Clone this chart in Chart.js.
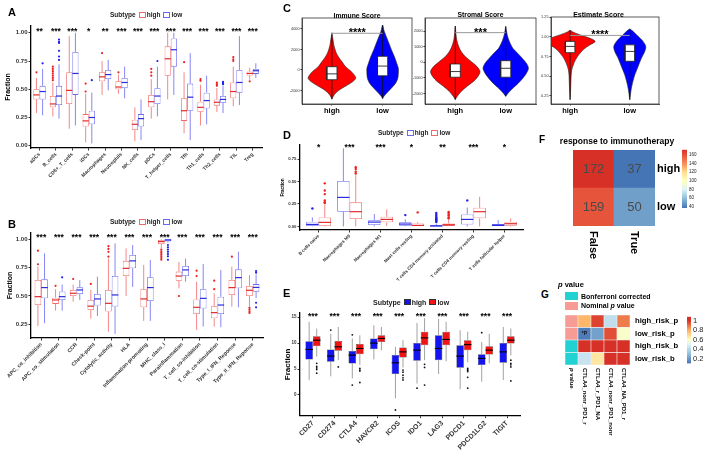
<!DOCTYPE html>
<html>
<head>
<meta charset="utf-8">
<script src="https://cdn.jsdelivr.net/npm/chart.js@4.4.1/dist/chart.umd.min.js"></script>
<style>
  body { margin: 0; width: 709px; height: 450px; background: #fff; position: relative; overflow: hidden; font-family: "Liberation Sans", Arial, sans-serif; }
  canvas { position: absolute; }
  .txt { position: absolute; white-space: nowrap; font-weight: bold; color: #000; line-height: 1; }
  .lg { position: absolute; display: flex; align-items: center; white-space: nowrap; font-weight: bold; line-height: 1; color: #222; height: 8px; }
  .ic { display: inline-block; box-sizing: border-box; margin: 0 1px 0 3px; }
</style>
</head>
<body>
<script>
// ---------- A: immune cell fractions ----------
const aLabels = ['aDCs', 'B_cells', 'CD8+_T_cells', 'iDCs', 'Macrophages', 'Neutrophils', 'NK_cells', 'pDCs', 'T_helper_cells', 'Tfh', 'Th1_cells', 'Th2_cells', 'TIL', 'Treg'];
const aStars = ['**', '***', '***', '*', '**', '***', '***', '***', '***', '***', '***', '***', '***', '***'];
// [min, q1, median, q3, max]
const aHigh = [
  [0.29, 0.41, 0.45, 0.50, 0.60], [0.26, 0.34, 0.37, 0.44, 0.56], [0.15, 0.37, 0.49, 0.65, 0.97],
  [0.03, 0.17, 0.22, 0.28, 0.46], [0.45, 0.57, 0.61, 0.65, 0.75], [0.46, 0.50, 0.52, 0.57, 0.63],
  [0.04, 0.14, 0.19, 0.23, 0.34], [0.24, 0.34, 0.39, 0.45, 0.59], [0.41, 0.62, 0.77, 0.88, 1.00],
  [0.11, 0.22, 0.31, 0.42, 0.65], [0.18, 0.30, 0.34, 0.39, 0.54], [0.30, 0.355, 0.385, 0.41, 0.51],
  [0.35, 0.42, 0.48, 0.56, 0.70], [0.585, 0.622, 0.64, 0.658, 0.69]
];
const aHighOut = [[0.65], [0.58, 0.60, 0.62, 0.64, 0.66, 0.68, 0.70], [], [0.48, 0.55], [0.82], [0.65], [], [0.62, 0.65, 0.68], [], [0.74], [0.575, 0.59], [0.53, 0.545, 0.56], [0.75, 0.765, 0.785], [0.57]];
const aLow = [
  [0.27, 0.41, 0.48, 0.53, 0.68], [0.24, 0.36, 0.44, 0.53, 0.72], [0.18, 0.45, 0.64, 0.83, 1.00],
  [0.02, 0.19, 0.25, 0.31, 0.47], [0.49, 0.59, 0.63, 0.67, 0.76], [0.42, 0.51, 0.56, 0.60, 0.70],
  [0.05, 0.17, 0.24, 0.28, 0.41], [0.26, 0.37, 0.44, 0.51, 0.70], [0.45, 0.70, 0.85, 0.95, 1.00],
  [0.05, 0.31, 0.43, 0.55, 0.82], [0.19, 0.33, 0.40, 0.47, 0.62], [0.29, 0.38, 0.41, 0.44, 0.53],
  [0.36, 0.47, 0.56, 0.67, 0.97], [0.60, 0.636, 0.664, 0.68, 0.73]
];
const aLowOut = [[0.73], [0.76, 0.79, 0.84, 0.91, 0.92, 0.94], [], [0.58], [], [], [], [0.75], [], [], [], [0.545, 0.555, 0.565], [], []];

// ---------- B: immune functions ----------
const bLabels = ['APC_co_inhibition', 'APC_co_stimulation', 'CCR', 'Check-point', 'Cytolytic_activity', 'HLA', 'Inflammation-promoting', 'MHC_class_I', 'Parainflammation', 'T_cell_co-inhibition', 'T_cell_co-stimulation', 'Type_I_IFN_Reponse', 'Type_II_IFN_Reponse'];
const bStars = bLabels.map(() => '***');
const bHigh = [
  [0.235, 0.42, 0.494, 0.641, 0.76], [0.37, 0.43, 0.465, 0.485, 0.56], [0.45, 0.50, 0.524, 0.553, 0.60],
  [0.30, 0.376, 0.41, 0.465, 0.553], [0.185, 0.362, 0.435, 0.553, 0.83], [0.50, 0.676, 0.744, 0.81, 0.92],
  [0.28, 0.40, 0.474, 0.559, 0.774], [0.92, 0.959, 0.98, 0.994, 1.0], [0.568, 0.635, 0.676, 0.715, 0.80],
  [0.20, 0.34, 0.40, 0.47, 0.626], [0.23, 0.303, 0.353, 0.41, 0.524], [0.406, 0.509, 0.574, 0.641, 0.76],
  [0.405, 0.50, 0.55, 0.588, 0.685]
];
const bHighOut = [[0.78, 0.90], [0.59], [0.65], [0.606], [0.847, 0.89, 0.915, 0.94], [], [], [0.82, 0.835, 0.85, 0.865, 0.88, 0.895, 0.91], [0.50], [0.676, 0.723], [0.56, 0.635], [0.847], [0.35, 0.365, 0.38, 0.395]];
const bLow = [
  [0.26, 0.48, 0.574, 0.647, 0.876], [0.37, 0.465, 0.494, 0.54, 0.60], [0.465, 0.518, 0.553, 0.576, 0.64],
  [0.323, 0.415, 0.474, 0.518, 0.67], [0.165, 0.406, 0.509, 0.676, 0.965], [0.58, 0.744, 0.81, 0.862, 0.95],
  [0.28, 0.456, 0.574, 0.665, 0.818], [0.97, 0.98, 0.994, 1.0, 1.0], [0.626, 0.676, 0.73, 0.765, 0.83],
  [0.23, 0.39, 0.479, 0.559, 0.782], [0.224, 0.34, 0.42, 0.494, 0.73], [0.40, 0.568, 0.662, 0.735, 0.89],
  [0.48, 0.538, 0.576, 0.605, 0.69]
];
const bLowOut = [[], [0.665], [], [], [], [], [], [0.82, 0.85, 0.87, 0.89, 0.91, 0.93, 0.95], [], [], [], [], [0.40, 0.44, 0.705, 0.72]];

// ---------- C: violin scores ----------
const cGroups = ['high', 'low'];
const immHighLev = [-2850, -2540, -2220, -1900, -1520, -1110, -790, -480, -60, 320, 790, 1270, 1740, 2380, 3010, 3490];
const immHighHw = [0, 0.03, 0.08, 0.16, 0.29, 0.42, 0.47, 0.44, 0.36, 0.27, 0.2, 0.13, 0.08, 0.04, 0.02, 0];
const immHighBox = [-2850, -950, -380, 320, 3650];
const immLowLev = [-2790, -2540, -2160, -1740, -1270, -790, -320, 160, 630, 1270, 1900, 2540, 3170, 3800, 4380];
const immLowHw = [0, 0.03, 0.1, 0.18, 0.26, 0.3, 0.31, 0.31, 0.28, 0.235, 0.18, 0.13, 0.08, 0.03, 0];
const immLowBox = [-2790, -570, 380, 1330, 4380];
const strHighLev = [-2380, -2170, -1850, -1540, -1220, -900, -590, -270, 40, 360, 670, 990, 1410, 1830, 2320];
const strHighHw = [0, 0.04, 0.12, 0.23, 0.36, 0.45, 0.49, 0.43, 0.32, 0.2, 0.12, 0.07, 0.03, 0.013, 0];
const strHighBox = [-2380, -950, -590, -105, 2320];
const strLowLev = [-2170, -1960, -1640, -1330, -1010, -700, -380, -60, 250, 570, 880, 1200, 1620, 2040, 2290];
const strLowHw = [0, 0.05, 0.145, 0.25, 0.34, 0.41, 0.45, 0.41, 0.33, 0.24, 0.145, 0.09, 0.04, 0.013, 0];
const strLowBox = [-2170, -950, -380, 105, 2290];
const estHighLev = [0.20, 0.37, 0.50, 0.58, 0.67, 0.75, 0.84, 0.90, 0.944, 0.987, 1.03, 1.064, 1.085];
const estHighHw = [0, 0.011, 0.017, 0.028, 0.067, 0.123, 0.223, 0.335, 0.419, 0.324, 0.156, 0.045, 0];
const estHighBox = [0.20, 0.80, 0.88, 0.944, 1.085];
const estLowLev = [0.20, 0.325, 0.41, 0.517, 0.624, 0.731, 0.816, 0.88, 0.944, 1.009, 1.051, 1.085, 1.103];
const estLowHw = [0, 0.022, 0.045, 0.084, 0.14, 0.196, 0.251, 0.268, 0.223, 0.14, 0.084, 0.034, 0];
const estLowBox = [0.20, 0.69, 0.816, 0.90, 1.10];

// ---------- D: CIBERSORT cells ----------
const dLabels = ['B cells naive', 'Macrophages M0', 'Macrophages M1', 'Mast cells resting', 'T cells CD4 memory activated', 'T cells CD4 memory resting', 'T cells follicular helper'];
const dStars = ['*', '***', '***', '*', '**', '***', '*'];
const dHigh = [
  [0, 0.004, 0.022, 0.052, 0.10], [0, 0.164, 0.323, 0.506, 0.87], [0, 0.015, 0.048, 0.07, 0.138],
  [0, 0.007, 0.026, 0.045, 0.078], [0, 0, 0.004, 0.015, 0.033], [0, 0.022, 0.078, 0.134, 0.21],
  [0, 0, 0.011, 0.026, 0.07]
];
const dHighOut = [[0.20], [], [], [0.126], [0.05, 0.06, 0.07, 0.08, 0.09, 0.10, 0.115, 0.13, 0.15], [0.29], []];
const dLow = [
  [0, 0.007, 0.045, 0.10, 0.24], [0, 0.082, 0.164, 0.268, 0.57], [0.005, 0.045, 0.078, 0.108, 0.19],
  [0, 0, 0.011, 0.033, 0.048], [0, 0, 0.019, 0.033, 0.078], [0, 0.09, 0.164, 0.208, 0.33],
  [0, 0.007, 0.03, 0.052, 0.09]
];
const dLowOut = [[0.26, 0.27, 0.29, 0.36, 0.40, 0.48], [0.59, 0.61, 0.64, 0.66], [], [0.156], [0.09, 0.10, 0.12, 0.13, 0.15, 0.16], [], []];

// ---------- E: checkpoint genes ----------
const eLabels = ['CD27', 'CD274', 'CTLA4', 'HAVCR2', 'ICOS', 'IDO1', 'LAG3', 'PDCD1', 'PDCD1LG2', 'TIGIT'];
const eStars = eLabels.map(() => '***');
const eHigh = [
  [2.9, 6.85, 8.77, 10.36, 14.1], [3.6, 6.4, 7.49, 8.77, 11.8], [3.2, 6.08, 7.68, 8.45, 10.9],
  [6.85, 8.83, 10.0, 10.9, 13.4], [-0.64, 4.03, 6.2, 7.68, 9.28], [2.2, 6.6, 8.64, 10.0, 13.9],
  [4.03, 6.7, 8.96, 11.5, 14.7], [1.1, 5.25, 7.49, 9.6, 12.5], [2.56, 5.76, 7.04, 7.87, 10.2],
  [2.88, 6.2, 8.3, 10.0, 13.1]
];
const eHighOut = [[], [12.5], [11.6, 1.9], [], [-2.9], [1.3], [], [], [12.0], []];
const eLow = [
  [7.4, 9.4, 10.56, 11.3, 12.8], [6.7, 8.5, 9.28, 10.4, 13.1], [5.8, 7.87, 8.96, 9.8, 11.5],
  [8.6, 10.2, 10.9, 11.5, 13.1], [5.3, 7.23, 8.3, 9.15, 10.56], [6.7, 9.6, 11.0, 12.2, 14.8],
  [6.5, 9.6, 10.7, 12.2, 14.1], [6.3, 8.64, 9.7, 10.56, 12.2], [6.1, 7.8, 8.64, 9.4, 11.8],
  [7.6, 9.9, 10.56, 11.3, 12.8]
];
const eLowOut = [[4.2, 4.9, 5.2, 5.5, 6.1], [5.4], [2.4, 4.6, 4.8, 5.1], [], [2.9, 3.3, 3.8, 4.4, 4.8], [1.9, 5.3, 5.9], [], [1.3, 3.4, 4.5, 4.7, 4.9, 5.1], [], [2.7, 5.4, 5.8, 6.1, 6.7]];

// ---------- F: response heatmap ----------
const fCols = ['False', 'True'];
const fRows = ['high', 'low'];
const fHigh = [172, 37];
const fLow = [159, 50];
const fTicks = [40, 60, 80, 100, 120, 140, 160];

// ---------- G: subclass mapping ----------
const gCols = ['p value', 'CTLA4_nonr_PD1_r', 'CTLA4_r_PD1_NA', 'CTLA4_nonr_PD1_nonr', 'CTLA4_NA_PD1_r'];
const gRows = ['high_risk_p', 'low_risk_p', 'high_risk_b', 'low_risk_b'];
const gHighP = [0.78, 0.97, 0.42, 0.88];
const gLowP = [0.12, 0.22, 0.95, 0.58];
const gHighB = [1, 1, 1, 1];
const gLowB = [0.44, 0.66, 1, 1];
const gAnnot = ['Nominal p value', 'Nominal p value', 'Bonferroni corrected', 'Bonferroni corrected'];
const gMarks = [['', '', '', ''], ['*P', '', '', ''], ['', '', '', ''], ['', '', '', '']];
const gTicks = [0.2, 0.4, 0.6, 0.8, 1];

const FONT = '"Liberation Sans", Arial, sans-serif';
Chart.defaults.font.family = FONT;
Chart.defaults.color = '#222';

function makeCanvas(left, top, w, h) {
  const c = document.createElement('canvas');
  c.width = w; c.height = h;
  c.style.left = left + 'px'; c.style.top = top + 'px';
  c.style.width = w + 'px'; c.style.height = h + 'px';
  document.body.appendChild(c);
  return c;
}

function addText(html, left, top, css) {
  const d = document.createElement('div');
  d.className = 'txt';
  d.innerHTML = html;
  d.style.left = left + 'px';
  d.style.top = top + 'px';
  if (css) d.style.cssText += css;
  document.body.appendChild(d);
}

function addLegend(left, top, size, items) {
  const d = document.createElement('div');
  d.className = 'lg';
  d.style.left = left + 'px';
  d.style.top = top + 'px';
  d.style.fontSize = size + 'px';
  let html = '<span>Subtype</span>';
  items.forEach(it => {
    const bg = it.filled
      ? `linear-gradient(to bottom, ${it.color} 42%, #000 42%, #000 58%, ${it.color} 58%)`
      : `linear-gradient(to bottom, #fff 40%, ${it.color} 40%, ${it.color} 60%, #fff 60%)`;
    const bd = it.filled ? '#333' : it.color;
    html += `<span class="ic" style="width:7px;height:6px;border:0.8px solid ${bd};background:${bg}"></span><span>${it.name}</span>`;
  });
  d.innerHTML = html;
  document.body.appendChild(d);
}

function hex(c) { return [1, 3, 5].map(i => parseInt(c.slice(i, i + 2), 16)); }
function colorAt(stops, v) {
  if (v <= stops[0][0]) return stops[0][1];
  for (let i = 1; i < stops.length; i++) {
    if (v <= stops[i][0]) {
      const t = (v - stops[i - 1][0]) / (stops[i][0] - stops[i - 1][0]);
      const a = hex(stops[i - 1][1]), b = hex(stops[i][1]);
      return `rgb(${a.map((x, k) => Math.round(x + (b[k] - x) * t)).join(',')})`;
    }
  }
  return stops[stops.length - 1][1];
}

// whiskers, medians and outliers on top of the floating-bar boxes
const boxExtras = {
  id: 'boxExtras',
  afterDatasetsDraw(chart) {
    const ctx = chart.ctx;
    const yScale = chart.scales.y;
    const py = v => yScale.getPixelForValue(v);
    chart.data.datasets.forEach((ds, di) => {
      const look = ds.look;
      chart.getDatasetMeta(di).data.forEach((bar, i) => {
        const b = ds.box[i];
        const half = bar.width / 2;
        ctx.save();
        ctx.strokeStyle = look.whisk;
        ctx.lineWidth = look.whiskW;
        ctx.beginPath();
        ctx.moveTo(bar.x, py(b[0])); ctx.lineTo(bar.x, py(b[1]));
        ctx.moveTo(bar.x, py(b[3])); ctx.lineTo(bar.x, py(b[4]));
        ctx.stroke();
        ctx.strokeStyle = look.med;
        ctx.lineWidth = look.medW;
        ctx.beginPath();
        ctx.moveTo(bar.x - half, py(b[2])); ctx.lineTo(bar.x + half, py(b[2]));
        ctx.stroke();
        ctx.fillStyle = look.dot;
        ds.out[i].forEach(v => {
          ctx.beginPath();
          ctx.arc(bar.x, py(v), look.dotR, 0, Math.PI * 2);
          ctx.fill();
        });
        ctx.restore();
      });
    });
  }
};

function starsPlugin(stars, size, dy) {
  return {
    id: 'stars',
    afterDatasetsDraw(chart) {
      const {ctx, chartArea, scales: {x}} = chart;
      ctx.save();
      ctx.font = `bold ${size}px ${FONT}`;
      ctx.fillStyle = '#000';
      ctx.textAlign = 'center';
      ctx.textBaseline = 'alphabetic';
      stars.forEach((s, i) => ctx.fillText(s, x.getPixelForValue(i), chartArea.top + dy));
      ctx.restore();
    }
  };
}

function boxChart(canvas, p) {
  const datasets = p.groups.map(g => ({
    data: g.box.map((b, i) => ({x: i, y: [b[1], b[3]]})),
    box: g.box, out: g.out, look: g,
    backgroundColor: g.fill, borderColor: g.line, borderWidth: g.lw, borderSkipped: false,
    categoryPercentage: p.boxWidth, barPercentage: 1
  }));
  return new Chart(canvas, {
    type: 'bar',
    data: {datasets},
    options: {
      responsive: false, animation: false, devicePixelRatio: 1,
      layout: {padding: {top: p.pad[0], right: p.pad[1], bottom: 0, left: 0}},
      plugins: {legend: {display: false}, tooltip: {enabled: false}},
      scales: {
        x: {
          type: 'linear', min: p.xRange[0], max: p.xRange[1], offset: false,
          grid: {drawOnChartArea: false, offset: false, tickLength: 2.5, color: '#333'},
          border: {color: '#000', width: 1.3},
          afterBuildTicks: s => { s.ticks = p.labels.map((l, i) => ({value: i})); },
          afterFit: s => { s.height = p.xh; },
          ticks: {autoSkip: false, minRotation: 45, maxRotation: 45, padding: 1, color: '#333',
            font: {size: p.xFont, weight: 'bold'}, callback: v => p.labels[v]}
        },
        y: {
          min: p.yRange[0], max: p.yRange[1],
          grid: {drawOnChartArea: false, tickLength: 2.5, color: '#333'},
          border: {color: '#000', width: 1.3},
          afterBuildTicks: s => { s.ticks = p.yTicks.map(v => ({value: v})); },
          afterFit: s => { s.width = p.yw; },
          ticks: {padding: 1, color: '#333', font: {size: p.yFont, weight: 'bold'}, callback: p.yFmt},
          title: {display: true, text: 'Fraction', color: '#000',
            font: {size: p.titleFont, weight: 'bold'}, padding: {top: p.titlePad, bottom: 0}}
        }
      }
    },
    plugins: [boxExtras, starsPlugin(p.stars, p.starSize, p.starDy)]
  });
}

function violinChart(canvas, p) {
  const ds = [];
  p.groups.forEach((g, gi) => {
    const c = gi + 1;
    const right = g.lev.map((v, i) => ({x: c + g.hw[i], y: v}));
    const left = g.lev.map((v, i) => ({x: c - g.hw[i], y: v})).reverse().slice(1);
    const b = g.box, w = p.boxHalf;
    ds.push({data: right.concat(left), fill: 'shape', backgroundColor: g.color, borderColor: '#222', borderWidth: 0.6, tension: 0.3, order: 5});
    ds.push({data: [{x: c, y: b[0]}, {x: c, y: b[4]}], borderColor: '#111', borderWidth: 0.8, order: 4});
    ds.push({data: [{x: c - w, y: b[1]}, {x: c + w, y: b[1]}, {x: c + w, y: b[3]}, {x: c - w, y: b[3]}, {x: c - w, y: b[1]}],
      fill: 'shape', backgroundColor: '#fff', borderColor: '#222', borderWidth: 0.8, order: 3});
    ds.push({data: [{x: c - w, y: b[2]}, {x: c + w, y: b[2]}], borderColor: '#222', borderWidth: 0.9, order: 2});
  });
  ds.push({data: [{x: 1, y: p.sigY}, {x: 2, y: p.sigY}], borderColor: '#999', borderWidth: 1, order: 1});
  ds.forEach(d => { d.showLine = true; d.pointRadius = 0; if (d.tension === undefined) d.tension = 0; });
  const frame = {
    id: 'frame',
    afterDraw(chart) {
      const {ctx, chartArea: a, scales: {x, y}} = chart;
      ctx.save();
      ctx.strokeStyle = '#333'; ctx.lineWidth = 0.8;
      ctx.strokeRect(a.left, a.top, a.right - a.left, a.bottom - a.top);
      ctx.font = `bold 11px ${FONT}`;
      ctx.fillStyle = '#000'; ctx.textAlign = 'center'; ctx.textBaseline = 'alphabetic';
      ctx.fillText(p.sig, x.getPixelForValue(1.5), y.getPixelForValue(p.sigY) + 3);
      ctx.restore();
    }
  };
  return new Chart(canvas, {
    type: 'scatter',
    data: {datasets: ds},
    options: {
      responsive: false, animation: false, devicePixelRatio: 1,
      layout: {padding: {top: p.pad[0], right: p.pad[1], bottom: 0, left: 0}},
      plugins: {legend: {display: false}, tooltip: {enabled: false}},
      scales: {
        x: {
          min: p.xRange[0], max: p.xRange[1],
          grid: {drawOnChartArea: false, tickLength: 1.5, color: '#333'},
          border: {color: '#333', width: 0.8},
          afterBuildTicks: s => { s.ticks = p.names.map((n, i) => ({value: i + 1})); },
          afterFit: s => { s.height = p.xh; },
          ticks: {padding: 0.5, color: '#000', font: {size: 7.5, weight: 'bold'}, callback: v => p.names[v - 1]}
        },
        y: {
          min: p.yRange[0], max: p.yRange[1],
          grid: {drawOnChartArea: false, tickLength: 1.5, color: '#333'},
          border: {color: '#333', width: 0.8},
          afterBuildTicks: s => { s.ticks = p.yTicks.map(v => ({value: v})); },
          afterFit: s => { s.width = p.yw; },
          ticks: {padding: 1, color: '#333', font: {size: 3.8}, callback: p.yFmt}
        }
      }
    },
    plugins: [frame]
  });
}

function colorBar(canvas, p) {
  return new Chart(canvas, {
    type: 'bar',
    data: {labels: [''], datasets: [{
      data: [[p.min, p.max]], barPercentage: 1, categoryPercentage: 1,
      backgroundColor: c => {
        const chart = c.chart;
        if (!chart.chartArea) return p.stops[0][1];
        const y = chart.scales.y;
        const g = chart.ctx.createLinearGradient(0, y.getPixelForValue(p.min), 0, y.getPixelForValue(p.max));
        p.stops.forEach(([v, col]) => g.addColorStop(Math.min(1, Math.max(0, (v - p.min) / (p.max - p.min))), col));
        return g;
      }
    }]},
    options: {
      responsive: false, animation: false, devicePixelRatio: 1,
      layout: {padding: {left: p.pad[0], top: p.pad[1], bottom: p.pad[2], right: 0}},
      plugins: {legend: {display: false}, tooltip: {enabled: false}},
      scales: {
        x: {display: false},
        y: {
          position: 'right', min: p.min, max: p.max,
          grid: {display: false, drawTicks: false}, border: {display: false},
          afterBuildTicks: s => { s.ticks = p.ticks.map(v => ({value: v})); },
          afterFit: s => { s.width = p.yw; },
          ticks: {autoSkip: false, padding: 2, color: '#222', font: {size: p.font}, callback: v => String(v)}
        }
      }
    }
  });
}

function heatmap(canvas, p) {
  // rows listed top to bottom; stacked bars are built bottom to top
  const order = p.rows.map((r, i) => i).reverse();
  const datasets = order.map(ri => ({
    data: p.cols.map(() => 1),
    values: p.values[ri], marks: p.marks ? p.marks[ri] : null,
    backgroundColor: p.colors[ri],
    borderColor: p.cellBorder, borderWidth: p.cellBorderW, borderSkipped: false,
    barPercentage: 1, categoryPercentage: 1
  }));
  const cellText = {
    id: 'cellText',
    afterDatasetsDraw(chart) {
      const {ctx, chartArea, scales: {x}} = chart;
      ctx.save();
      ctx.textAlign = 'center'; ctx.textBaseline = 'middle';
      chart.data.datasets.forEach((ds, di) => {
        chart.getDatasetMeta(di).data.forEach((bar, i) => {
          const t = p.showValues ? String(ds.values[i]) : (ds.marks ? ds.marks[i + p.markOffset] || '' : '');
          if (!t) return;
          ctx.font = p.cellFont;
          ctx.fillStyle = p.cellColor;
          ctx.fillText(t, bar.x, (bar.y + bar.base) / 2);
        });
      });
      // column labels rotated clockwise, reading downward
      ctx.fillStyle = '#000';
      ctx.textAlign = 'left';
      p.cols.forEach((c, i) => {
        ctx.save();
        ctx.translate(x.getPixelForTick(i), chartArea.bottom + p.colGap);
        ctx.rotate(Math.PI / 2);
        if (c.startsWith('p ')) {
          ctx.font = `italic bold ${p.colSize}px ${FONT}`;
          ctx.fillText('p', 0, 0);
          const w = ctx.measureText('p').width;
          ctx.font = `bold ${p.colSize}px ${FONT}`;
          ctx.fillText(c.slice(1), w, 0);
        } else {
          ctx.font = `bold ${p.colSize}px ${FONT}`;
          ctx.fillText(c, 0, 0);
        }
        ctx.restore();
      });
      ctx.restore();
    }
  };
  return new Chart(canvas, {
    type: 'bar',
    data: {labels: p.cols, datasets},
    options: {
      responsive: false, animation: false, devicePixelRatio: 1,
      layout: {padding: {left: p.pad[0], top: p.pad[1], bottom: 0, right: 0}},
      plugins: {legend: {display: false}, tooltip: {enabled: false}},
      scales: {
        x: {stacked: true, grid: {display: false}, border: {display: false}, ticks: {display: false},
          afterFit: s => { s.height = p.xh; }},
        y: {
          stacked: true, position: 'right', min: 0, max: p.rows.length,
          grid: {display: false, drawTicks: false}, border: {display: false},
          afterBuildTicks: s => { s.ticks = p.rows.map((r, i) => ({value: i + 0.5})); },
          afterFit: s => { s.width = p.yw; },
          ticks: {autoSkip: false, padding: p.rowPad, color: '#000', font: {size: p.rowSize, weight: 'bold'},
            callback: v => p.rows[p.rows.length - 1 - Math.floor(v)]}
        }
      }
    },
    plugins: [cellText]
  });
}

const redOutline = {fill: '#fff', line: '#f06868', lw: 0.8, whisk: '#f06868', whiskW: 0.8, med: '#e22a2a', medW: 1.2, dot: '#ee2020', dotR: 1.1};
const blueOutline = {fill: '#fff', line: '#6868f0', lw: 0.8, whisk: '#6868f0', whiskW: 0.8, med: '#2a2ae2', medW: 1.2, dot: '#2020ee', dotR: 1.1};
const fmt2 = v => v.toFixed(2);

// A
boxChart(makeCanvas(0, 0, 266, 195), {
  labels: aLabels, stars: aStars, starSize: 8.5, starDy: 7.5,
  groups: [{...redOutline, box: aHigh, out: aHighOut}, {...blueOutline, box: aLow, out: aLowOut}],
  xRange: [-0.52, 13.6], yRange: [-0.02, 1.06], yTicks: [0, 0.25, 0.5, 0.75, 1], yFmt: fmt2,
  pad: [26, 3.4], yw: 31, xh: 47, xFont: 5, yFont: 6, titleFont: 7, titlePad: 4, boxWidth: 0.75
});

// B
boxChart(makeCanvas(0, 190, 266, 215), {
  labels: bLabels, stars: bStars, starSize: 8.5, starDy: 7.2,
  groups: [{...redOutline, box: bHigh, out: bHighOut}, {...blueOutline, box: bLow, out: bLowOut}],
  xRange: [-0.58, 12.58], yRange: [0.129, 1.056], yTicks: [0.25, 0.5, 0.75, 1], yFmt: fmt2,
  pad: [43, 3], yw: 31, xh: 67, xFont: 5.3, yFont: 6, titleFont: 7, titlePad: 5.5, boxWidth: 0.75
});

// C
violinChart(makeCanvas(272, 0, 143, 118), {
  names: cGroups, sig: '****', sigY: 3580, boxHalf: 0.1,
  groups: [{lev: immHighLev, hw: immHighHw, box: immHighBox, color: '#ff0000'}, {lev: immLowLev, hw: immLowHw, box: immLowBox, color: '#0000ff'}],
  xRange: [0.41, 2.58], yRange: [-3320, 5070], yTicks: [-2000, 0, 2000, 4000], yFmt: v => String(v),
  pad: [18, 3], yw: 30, xh: 14
});
violinChart(makeCanvas(400, 0, 139, 118), {
  names: cGroups, sig: '***', sigY: 1895, boxHalf: 0.1,
  groups: [{lev: strHighLev, hw: strHighHw, box: strHighBox, color: '#ff0000'}, {lev: strLowLev, hw: strLowHw, box: strLowBox, color: '#0000ff'}],
  xRange: [0.4, 2.6], yRange: [-2660, 2830], yTicks: [-2000, -1000, 0, 1000, 2000], yFmt: v => String(v),
  pad: [18, 3], yw: 25, xh: 14
});
violinChart(makeCanvas(532, 0, 130, 118), {
  names: cGroups, sig: '****', sigY: 1.02, boxHalf: 0.08,
  groups: [{lev: estHighLev, hw: estHighHw, box: estHighBox, color: '#ff0000'}, {lev: estLowLev, hw: estLowHw, box: estLowBox, color: '#0000ff'}],
  xRange: [0.68, 2.49], yRange: [0.145, 1.255], yTicks: [0.25, 0.5, 0.75, 1, 1.25], yFmt: fmt2,
  pad: [17, 3], yw: 19, xh: 14
});

// D (high = blue, low = red)
boxChart(makeCanvas(277, 128, 250, 160), {
  labels: dLabels, stars: dStars, starSize: 8.5, starDy: 5,
  groups: [{...blueOutline, box: dHigh, out: dHighOut, dotR: 1.2}, {...redOutline, box: dLow, out: dLowOut, dotR: 1.2}],
  xRange: [-0.6, 6.6], yRange: [-0.04, 0.907], yTicks: [0, 0.25, 0.5, 0.75], yFmt: fmt2,
  pad: [17, 4], yw: 23, xh: 58, xFont: 4.5, yFont: 4.3, titleFont: 4.6, titlePad: 3.2, boxWidth: 0.8
});

// E
const eBlue = {fill: '#1414f0', line: '#333', lw: 0.5, whisk: '#8a8a8a', whiskW: 0.8, med: '#000', medW: 1.1, dot: '#111', dotR: 0.9};
const eRed = {fill: '#f01414', line: '#333', lw: 0.5, whisk: '#8a8a8a', whiskW: 0.8, med: '#000', medW: 1.1, dot: '#111', dotR: 0.9};
boxChart(makeCanvas(280, 290, 244, 160), {
  labels: eLabels, stars: eStars, starSize: 8.5, starDy: 5.8,
  groups: [{...eBlue, box: eHigh, out: eHighOut}, {...eRed, box: eLow, out: eLowOut}],
  xRange: [-0.6, 9.6], yRange: [-4, 15.8], yTicks: [0, 5, 10, 15], yFmt: v => String(v),
  pad: [23, 4], yw: 20, xh: 34.3, xFont: 7, yFont: 4.5, titleFont: 8, titlePad: 2.7, boxWidth: 0.7
});

// F
const fStops = [[37, '#4575b4'], [60, '#91bfdb'], [80, '#e0f3f8'], [100, '#ffffbf'], [120, '#fee090'], [135, '#fc9e62'], [150, '#f26d4b'], [172, '#d73027']];
heatmap(makeCanvas(565, 135, 135, 140), {
  cols: fCols, rows: fRows, values: [fHigh, fLow],
  colors: [fHigh.map(v => colorAt(fStops, v)), fLow.map(v => colorAt(fStops, v))],
  showValues: true, cellFont: `13px ${FONT}`, cellColor: '#4a4a4a', cellBorder: '#fff', cellBorderW: 0,
  pad: [8, 15], xh: 49, yw: 45, rowPad: 2, rowSize: 11, colSize: 11, colGap: 5
});
colorBar(makeCanvas(676, 145, 30, 70), {
  min: 37, max: 172, stops: fStops, ticks: fTicks, pad: [6, 3, 7], yw: 19, font: 4.5
});

// G
const gStops = [[0.1, '#4575b4'], [0.3, '#91bfdb'], [0.5, '#e0f3f8'], [0.6, '#ffffbf'], [0.8, '#fdae61'], [1.0, '#d73027'], [1.08, '#d73027']];
const gAnnotColors = {'Bonferroni corrected': '#22d1d1', 'Nominal p value': '#f69c95'};
const gValues = [gHighP, gLowP, gHighB, gLowB];
heatmap(makeCanvas(555, 305, 140, 145), {
  cols: gCols, rows: gRows, values: gValues,
  colors: gValues.map((row, ri) => [gAnnotColors[gAnnot[ri]]].concat(row.map(v => colorAt(gStops, v)))),
  showValues: false, marks: gMarks, markOffset: -1,
  cellFont: `bold 5px ${FONT}`, cellColor: '#111', cellBorder: '#f4f4f4', cellBorderW: 0.6,
  pad: [10, 10], xh: 85, yw: 65, rowPad: 5, rowSize: 7.7, colSize: 6, colGap: 3
});
colorBar(makeCanvas(683, 310, 26, 60), {
  min: 0.1, max: 1.08, stops: gStops, ticks: gTicks, pad: [4, 6.7, 6], yw: 18, font: 7.5
});

// panel letters, titles and legends
addText('A', 8, 7, 'font-size:11px');
addText('B', 8, 219, 'font-size:11px');
addText('C', 283, 3, 'font-size:11px');
addText('D', 283, 130, 'font-size:11px');
addText('E', 283, 288, 'font-size:11px');
addText('F', 539, 135, 'font-size:10px');
addText('G', 541, 290, 'font-size:10px');

addText('Immune Score', 302, 12.5, 'font-size:6.8px;width:110px;text-align:center');
addText('Stromal Score', 425, 12.2, 'font-size:6.8px;width:111px;text-align:center');
addText('Estimate Score', 551, 10.5, 'font-size:7px;width:95px;text-align:center');
addText('response to immunotherapy', 557, 136.7, 'font-size:8.5px;width:120px;text-align:center');

addLegend(110, 11, 6.5, [{name: 'high', color: '#f06868'}, {name: 'low', color: '#6868f0'}]);
addLegend(110, 218, 6.5, [{name: 'high', color: '#f06868'}, {name: 'low', color: '#6868f0'}]);
addLegend(378, 129, 6.5, [{name: 'high', color: '#6868f0'}, {name: 'low', color: '#f06868'}]);
addLegend(373, 298, 7, [{name: 'high', color: '#1414f0', filled: true}, {name: 'low', color: '#f01414', filled: true}]);

addText('<i>p</i> value', 558, 281, 'font-size:7.5px');
addText('', 565, 292, 'width:13px;height:8px;background:#22d1d1');
addText('Bonferroni corrected', 581, 292.5, 'font-size:7px');
addText('', 565, 301.5, 'width:13px;height:8px;background:#f69c95');
addText('Nominal <i>p</i> value', 581, 302, 'font-size:7px');
</script>
</body>
</html>
